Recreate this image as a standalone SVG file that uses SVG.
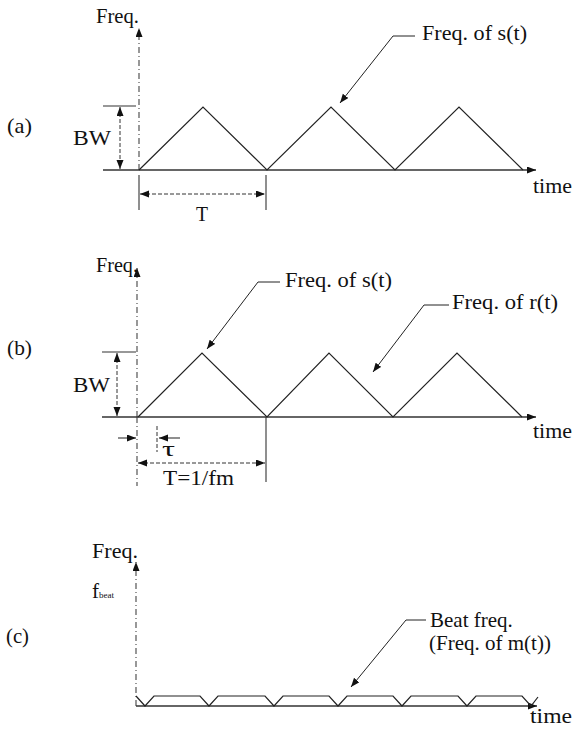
<svg xmlns="http://www.w3.org/2000/svg" width="573" height="732" viewBox="0 0 573 732">
<defs>
<marker id="ah" markerUnits="userSpaceOnUse" markerWidth="10" markerHeight="8" refX="9" refY="3.5" orient="auto-start-reverse"><path d="M0,0 L9,3.5 L0,7 z" fill="#111"/></marker>
<style>
text{font-family:"Liberation Serif","Times New Roman",serif;font-size:21px;fill:#111}
.sig{fill:none;stroke:#222;stroke-width:1.2}
.base{stroke:#333;stroke-width:1.3}
.yax{stroke:#444;stroke-width:1.1;stroke-dasharray:6,3,1,3}
.dim{stroke:#333;stroke-width:1;stroke-dasharray:4,2}
.tick{stroke:#333;stroke-width:1.1}
.lead{fill:none;stroke:#222;stroke-width:1}
</style>
</defs>
<rect width="573" height="732" fill="#fff"/>

<g id="panel-a">
<text x="7" y="133" textLength="25" lengthAdjust="spacingAndGlyphs">(a)</text>
<text x="96" y="23" textLength="43" lengthAdjust="spacingAndGlyphs">Freq.</text>
<line class="yax" x1="139" y1="170" x2="139" y2="28" marker-end="url(#ah)"/>
<line class="base" x1="103" y1="170" x2="536" y2="170" marker-end="url(#ah)"/>
<line class="tick" x1="103" y1="106" x2="136" y2="106"/>
<line class="dim" x1="120" y1="107" x2="120" y2="169" marker-start="url(#ah)" marker-end="url(#ah)"/>
<text x="73" y="145" textLength="38" lengthAdjust="spacingAndGlyphs">BW</text>
<polyline class="sig" points="139,170 203,107 267,170 331,107 395,170 459,107 523,170"/>
<line class="tick" x1="139" y1="175" x2="139" y2="210"/>
<line class="tick" x1="266" y1="175" x2="266" y2="210"/>
<line class="dim" x1="140" y1="194" x2="265" y2="194" marker-start="url(#ah)" marker-end="url(#ah)"/>
<text x="196" y="221" textLength="12" lengthAdjust="spacingAndGlyphs">T</text>
<text x="533" y="193" textLength="39" lengthAdjust="spacingAndGlyphs">time</text>
<text x="422" y="40" textLength="105" lengthAdjust="spacingAndGlyphs">Freq. of s(t)</text>
</g>

<g id="panel-b">
<text x="7" y="355" textLength="25" lengthAdjust="spacingAndGlyphs">(b)</text>
<text x="96" y="272" textLength="42" lengthAdjust="spacingAndGlyphs">Freq.</text>
<line class="yax" x1="137" y1="417" x2="137" y2="268" marker-end="url(#ah)"/>
<line class="yax" x1="137" y1="417" x2="137" y2="486"/>
<line class="base" x1="102" y1="417" x2="536" y2="417" marker-end="url(#ah)"/>
<line class="tick" x1="102" y1="352" x2="136" y2="352"/>
<line class="dim" x1="117" y1="353" x2="117" y2="416" marker-start="url(#ah)" marker-end="url(#ah)"/>
<text x="73" y="392" textLength="37" lengthAdjust="spacingAndGlyphs">BW</text>
<polyline class="sig" points="138,417 202,353 267,417 329,353 393,417 457,353 522,417"/>
<line class="tick" x1="266" y1="417" x2="266" y2="482"/>
<line class="dim" x1="157" y1="426" x2="157" y2="452"/>
<line class="tick" x1="118" y1="438" x2="136" y2="438" marker-end="url(#ah)"/>
<line class="tick" x1="180" y1="438" x2="159" y2="438" marker-end="url(#ah)"/>
<text x="162" y="456" textLength="13" lengthAdjust="spacingAndGlyphs">τ</text>
<line class="dim" x1="138" y1="463" x2="265" y2="463" marker-start="url(#ah)" marker-end="url(#ah)"/>
<text x="163" y="485" textLength="71" lengthAdjust="spacingAndGlyphs">T=1/fm</text>
<text x="533" y="438" textLength="39" lengthAdjust="spacingAndGlyphs">time</text>
<text x="285" y="287" textLength="107" lengthAdjust="spacingAndGlyphs">Freq. of s(t)</text>
<text x="452" y="309" textLength="106" lengthAdjust="spacingAndGlyphs">Freq. of r(t)</text>
</g>

<g id="panel-c">
<text x="6" y="643" textLength="23" lengthAdjust="spacingAndGlyphs">(c)</text>
<text x="92" y="558" textLength="46" lengthAdjust="spacingAndGlyphs">Freq.</text>
<text x="92" y="598">f<tspan font-size="9">beat</tspan></text>
<line class="yax" x1="136" y1="706" x2="136" y2="562" marker-end="url(#ah)"/>
<line class="base" x1="136" y1="706" x2="537" y2="706" marker-end="url(#ah)"/>
<polyline class="sig" points="136,696 145,706 154,696 200,696 209,706 218,696 265,696 274,706 283,696 329,696 338,706 347,696 393,696 402,706 411,696 458,696 467,706 476,696 522,696 531,706 538,697"/>
<text x="530" y="723" textLength="42" lengthAdjust="spacingAndGlyphs">time</text>
<text x="430" y="627">Beat freq.</text>
<text x="429" y="650">(Freq. of m(t))</text>
</g>

<g id="connectors">
<polyline class="lead" points="415,36 393,36 340,103" marker-end="url(#ah)"/>
<polyline class="lead" points="280,282 258,282 207,349" marker-end="url(#ah)"/>
<polyline class="lead" points="449,305 424,305 373,372" marker-end="url(#ah)"/>
<polyline class="lead" points="426,620 406,620 351,687" marker-end="url(#ah)"/>
</g>
</svg>
